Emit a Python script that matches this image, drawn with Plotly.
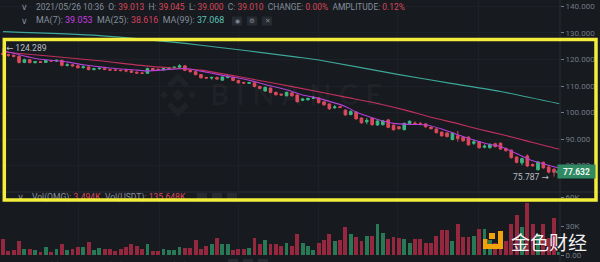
import plotly.graph_objects as go

# ---- candle data (one entry per candle, oldest first) ----
opens = [122.4, 121.9, 121.6, 121.2, 118.9, 119.9, 118.8, 119.2, 118.9, 119.6,
         119.4, 119.7, 117.8, 118.0, 117.6, 116.9, 117.2, 116.2, 116.5, 116.7,
         116.2, 116.0, 115.9, 115.8, 115.7, 115.2, 114.9, 114.8, 116.6, 116.3,
         116.1, 116.6, 116.9, 117.1, 117.6, 115.9, 115.4, 114.3, 113.2, 113.0,
         113.2, 112.2, 113.2, 113.3, 112.1, 111.3, 111.0, 111.2, 109.8, 108.1,
         109.2, 107.6, 106.9, 106.3, 107.4, 106.6, 104.6, 104.8, 105.4, 105.5,
         104.0, 103.2, 101.8, 102.2, 100.9, 99.2, 100.2, 97.9, 96.5, 97.8,
         95.3, 95.4, 97.2, 95.2, 94.6, 93.5, 95.8, 96.0, 95.8, 95.7,
         94.5, 93.8, 92.6, 92.3, 89.8, 91.2, 90.7, 90.7, 88.4, 89.0,
         86.9, 86.7, 88.2, 88.4, 86.4, 85.8, 83.2, 81.0, 83.6, 80.4,
         78.4, 81.2, 79.4, 78.6, 77.45]
highs = [124.289, 122.2, 121.9, 121.5, 120.3, 120.1, 119.4, 119.4, 119.9, 119.8,
         119.9, 119.9, 118.6, 118.3, 118.2, 117.8, 117.4, 116.9, 117.0, 116.9,
         116.5, 116.3, 116.2, 116.6, 116.0, 115.5, 115.3, 116.9, 116.8, 116.6,
         116.8, 117.1, 117.3, 118.2, 117.8, 116.3, 115.6, 114.5, 113.5, 113.6,
         113.6, 113.6, 114.3, 113.5, 112.3, 111.6, 111.6, 111.4, 110.1, 109.8,
         109.4, 107.9, 107.2, 107.9, 107.6, 106.8, 105.4, 105.6, 106.2, 105.8,
         104.2, 103.4, 102.8, 102.5, 101.2, 100.8, 100.4, 98.1, 97.9, 98.0,
         97.0, 97.2, 97.6, 95.5, 94.8, 96.2, 97.0, 96.6, 96.4, 96.0,
         94.7, 94.0, 92.8, 92.5, 92.5, 93.0, 90.9, 91.0, 89.8, 89.2,
         88.0, 88.3, 88.6, 88.8, 86.8, 86.0, 83.4, 82.9, 84.2, 80.7,
         81.6, 81.5, 80.2, 78.9, 77.9]
lows = [121.6, 121.0, 120.8, 118.5, 118.6, 118.6, 118.5, 118.7, 118.7, 119.2,
        119.1, 117.4, 117.4, 117.3, 116.6, 116.6, 115.9, 115.9, 116.2, 116.0,
        115.8, 115.7, 115.6, 115.2, 115.0, 114.6, 114.6, 114.6, 115.8, 115.9,
        115.9, 116.4, 116.6, 116.9, 115.6, 115.1, 114.0, 112.8, 112.7, 112.4,
        112.3, 112.0, 112.9, 111.8, 110.9, 110.9, 110.8, 109.5, 108.9, 107.9,
        107.3, 106.4, 106.3, 106.1, 106.0, 103.7, 104.3, 104.5, 105.1, 103.4,
        102.6, 101.0, 101.4, 101.6, 98.8, 99.0, 97.3, 95.8, 95.6, 95.0,
        95.0, 95.1, 94.1, 93.2, 93.5, 93.3, 95.6, 95.3, 95.2, 94.3,
        93.6, 92.1, 90.9, 90.6, 89.5, 89.0, 89.0, 87.5, 87.8, 86.4,
        86.5, 86.4, 86.8, 85.9, 85.2, 82.6, 80.8, 80.1, 79.4, 79.5,
        78.1, 78.8, 77.0, 75.787, 77.3]
closes = [121.9, 121.6, 121.2, 118.9, 119.9, 118.8, 119.2, 118.9, 119.6, 119.4,
          119.7, 117.8, 118.0, 117.6, 116.9, 117.2, 116.2, 116.5, 116.7, 116.2,
          116.0, 115.9, 115.8, 115.7, 115.2, 114.9, 114.8, 116.6, 116.0, 116.1,
          116.6, 116.9, 117.1, 117.6, 115.9, 115.4, 114.3, 113.1, 113.0, 113.2,
          112.6, 113.4, 113.5, 112.1, 111.2, 111.1, 111.3, 109.8, 109.1, 109.5,
          107.6, 106.7, 106.6, 107.6, 106.3, 104.1, 105.1, 105.3, 105.6, 103.7,
          102.9, 101.4, 102.1, 101.9, 99.1, 100.4, 97.6, 96.1, 97.0, 95.4,
          96.8, 96.8, 94.4, 93.5, 93.9, 95.9, 96.7, 95.7, 95.6, 94.6,
          93.9, 92.4, 91.2, 90.9, 92.2, 90.2, 89.3, 87.8, 88.9, 86.7,
          87.3, 88.0, 87.1, 86.2, 85.6, 83.0, 81.2, 82.6, 79.8, 79.9,
          81.3, 79.1, 77.5, 77.45, 77.632]
# traded volume per candle, in thousands
volumes_k = [16.2, 4.1, 4.8, 14.4, 6.2, 5.9, 5.2, 3.1, 8.2, 3.4,
             5.9, 11.3, 4.8, 5.9, 8.2, 8.2, 13.7, 4.8, 7.5, 5.9,
             5.9, 4.1, 5.9, 8.2, 11.0, 9.3, 5.9, 11.6, 4.1, 4.1,
             6.5, 4.8, 4.8, 8.2, 7.5, 7.5, 15.5, 5.9, 9.3, 11.0,
             17.2, 11.0, 11.0, 5.2, 6.5, 6.5, 7.5, 17.2, 11.6, 15.1,
             11.0, 11.0, 9.3, 12.7, 9.3, 21.9, 12.7, 9.3, 4.8, 12.7,
             15.1, 21.9, 14.4, 15.5, 29.1, 21.9, 18.5, 14.4, 19.6, 19.6,
             31.6, 23.0, 16.2, 18.5, 17.8, 16.2, 12.7, 16.2, 16.2, 12.7,
             12.7, 19.6, 25.8, 25.8, 14.4, 32.2, 18.8, 18.8, 19.6, 26.5,
             26.5, 15.5, 12.0, 20.0, 14.0, 32.0, 41.2, 28.8, 53.6, 32.0,
             22.0, 32.0, 18.0, 38.0, 3.494]

# ---- moving averages (candle index -> value) ----
ma7_idx = [0, 6, 9, 12, 15, 20, 25, 27, 31, 34, 37, 41, 46, 49, 53, 56, 58, 61, 64, 66,
           69, 71, 73, 76, 79, 82, 85, 88, 91, 93, 96, 99, 102, 103, 104]
ma7_val = [123.4, 120.4, 119.7, 119.1, 118.0, 116.8, 116.0, 115.7, 116.2, 116.6,
           115.6, 114.0, 112.2, 110.6, 108.6, 106.6, 105.8, 104.2, 102.3, 100.2,
           98.0, 96.8, 95.9, 95.5, 95.4, 93.8, 91.6, 89.6, 87.9, 87.2,
           84.5, 81.8, 80.1, 79.5, 79.0]
ma25_idx = [0, 9, 18, 28, 37, 46, 55, 64, 70, 75, 80, 85, 89, 94, 98, 103, 104]
ma25_val = [122.8, 121.2, 119.5, 117.3, 116.0, 112.8, 109.4, 105.8, 103.4, 101.0,
            98.2, 95.8, 93.7, 91.3, 89.2, 86.6, 86.2]
ma99_idx = [0, 18, 37, 55, 59, 74, 84, 93, 104]
ma99_val = [130.5, 129.0, 125.4, 120.9, 119.8, 114.3, 110.9, 107.9, 103.3]

price_ticks = [80, 90, 100, 110, 120, 130, 140]
vol_ticks = [0, 30000, 60000]
vol_tick_text = ["0.00", "30K", "60K"]

# ---- styling ----
FONT = "Roboto, 'DejaVu Sans', sans-serif"
BG = "#171a1f"
GRID = "#1d2026"
AXIS = "#2b2f36"
LABEL = "#848e9c"
TICK = "#737983"
UP = "#3db884"
DOWN = "#dc4a5b"
VOL_UP = "#287a57"
VOL_DOWN = "#95283f"
MA7_C = "#b540d8"
MA25_C = "#c0305c"
MA99_C = "#3da899"
YELLOW = "#f3ee3b"

PLOT_W = 560.0   # width of plotting area; right margin holds the price scale
FIG_H = 262.0


def px(x):
    return x / PLOT_W


def py(y):
    return 1 - y / FIG_H


idx = list(range(len(closes)))
vols = [v * 1000 for v in volumes_k]
vol_colors = [VOL_UP if c >= o else VOL_DOWN for o, c in zip(opens, closes)]

fig = go.Figure()

fig.add_trace(go.Candlestick(
    x=idx, open=opens, high=highs, low=lows, close=closes,
    increasing=dict(line=dict(color=UP, width=1), fillcolor=UP),
    decreasing=dict(line=dict(color=DOWN, width=1), fillcolor=DOWN),
    whiskerwidth=0, hoverinfo="skip", xaxis="x", yaxis="y"))

for xs, ys, col in [(ma99_idx, ma99_val, MA99_C), (ma25_idx, ma25_val, MA25_C),
                    (ma7_idx, ma7_val, MA7_C)]:
    fig.add_trace(go.Scatter(x=xs, y=ys, mode="lines",
                             line=dict(color=col, width=1.1, shape="spline", smoothing=0.6),
                             hoverinfo="skip", xaxis="x", yaxis="y"))

fig.add_trace(go.Bar(x=idx, y=vols, marker=dict(color=vol_colors, line=dict(width=0)),
                     width=0.72, hoverinfo="skip", xaxis="x2", yaxis="y2"))

# legend text sizing and spacing
HS = 8.6
ES = "\u2002"   # gap between legend items
RED_TXT = "#d9485a"

# volume legend line (sits under the highlight frame)
vol_text = (f"Vol(OMG): <span style='color:{RED_TXT}'>3.494K</span>{ES}"
            f"Vol(USDT): <span style='color:{RED_TXT}'>135.648K</span>")
fig.add_trace(go.Scatter(x=[5.4], y=[59000], mode="text", text=[vol_text],
                         textposition="middle right",
                         textfont=dict(family=FONT, size=HS, color=LABEL),
                         cliponaxis=False, hoverinfo="skip", xaxis="x2", yaxis="y2"))
fig.add_trace(go.Scatter(x=[3.3], y=[59000], mode="text", text=["∨"],
                         textposition="middle center",
                         textfont=dict(family=FONT, size=9, color=LABEL),
                         cliponaxis=False, hoverinfo="skip", xaxis="x2", yaxis="y2"))

grid_x = [14.2, 29.2, 44.1, 58.9, 73.8, 88.8]
x_range = [-0.561, 104.11]

fig.update_layout(
    width=600, height=262,
    margin=dict(l=0, r=40, t=0, b=0, autoexpand=False),
    paper_bgcolor=BG, plot_bgcolor=BG,
    showlegend=False, hovermode=False, dragmode=False,
    bargap=0,
    xaxis=dict(domain=[0, 1], range=x_range, anchor="y", showticklabels=False,
               tickvals=grid_x, showgrid=True, gridcolor=GRID, gridwidth=1,
               zeroline=False, showline=False, ticks="", automargin=False,
               rangeslider=dict(visible=False)),
    xaxis2=dict(domain=[0, 1], range=x_range, anchor="y2", showticklabels=False,
                tickvals=grid_x, showgrid=True, gridcolor=GRID, gridwidth=1,
                zeroline=False, showline=False, ticks="", automargin=False),
    yaxis=dict(domain=[py(192), 1], range=[70, 142.45], side="right", anchor="x",
               tickvals=price_ticks, ticktext=[f"{v:.3f}" for v in price_ticks],
               tickfont=dict(family=FONT, size=8, color=TICK),
               ticks="outside", ticklen=3, tickcolor=TICK, automargin=False,
               showgrid=True, gridcolor=GRID, zeroline=False, showline=False),
    yaxis2=dict(domain=[py(255), py(192)], range=[0, 65170], side="right", anchor="x2",
                tickvals=vol_ticks, ticktext=vol_tick_text,
                tickfont=dict(family=FONT, size=8, color=TICK),
                ticks="outside", ticklen=3, tickcolor=TICK, automargin=False,
                showgrid=False, zeroline=False, showline=False),
)

shapes = []
# pane separator and price-scale border
shapes.append(dict(type="line", xref="paper", yref="paper", x0=0, x1=px(600),
                   y0=py(192), y1=py(192), line=dict(color=AXIS, width=1), layer="above"))
shapes.append(dict(type="line", xref="paper", yref="paper", x0=1, x1=1,
                   y0=0, y1=1, line=dict(color=AXIS, width=1), layer="above"))


def box(x0, x1, y0, y1):
    return dict(type="rect", xref="paper", yref="paper", x0=px(x0), x1=px(x1),
                y0=py(y1), y1=py(y0), fillcolor="#262a31", line=dict(width=0), layer="above")


# small control buttons next to each legend row
for bx in [(232, 242), (247, 257), (262, 272)]:
    shapes.append(box(bx[0], bx[1], 16.5, 25.5))
for bx in [(197, 207), (212, 222), (227, 237)]:
    shapes.append(box(bx[0], bx[1], 193, 202))
for bx in [(228, 238), (243, 253), (258, 268)]:
    shapes.append(box(bx[0], bx[1], 259, 268))


def path_px(points):
    return "M " + " L ".join(f"{px(a):.5f},{py(b):.5f}" for a, b in points) + " Z"


# faint exchange watermark (diamond mark)
WM = "rgba(255,255,255,0.035)"
cx, cy = 178, 95
shapes.append(dict(type="path", xref="paper", yref="paper", layer="below",
                   path=path_px([(cx, cy - 6), (cx + 6, cy), (cx, cy + 6), (cx - 6, cy)]),
                   fillcolor=WM, line=dict(width=0)))
for dx in (-14, 14):
    shapes.append(dict(type="path", xref="paper", yref="paper", layer="below",
                       path=path_px([(cx + dx, cy - 4), (cx + dx + 4, cy), (cx + dx, cy + 4),
                                     (cx + dx - 4, cy)]),
                       fillcolor=WM, line=dict(width=0)))
for sgn in (-1, 1):
    shapes.append(dict(type="path", xref="paper", yref="paper", layer="below",
                       path=path_px([(cx, cy + sgn * 22), (cx + 11, cy + sgn * 11),
                                     (cx + 7, cy + sgn * 7), (cx, cy + sgn * 14),
                                     (cx - 7, cy + sgn * 7), (cx - 11, cy + sgn * 11)]),
                       fillcolor=WM, line=dict(width=0)))

# orange brand mark, bottom right
ORANGE = "#f0a30a"
shapes.append(dict(type="path", xref="paper", yref="paper", layer="above",
                   path=path_px([(483, 239), (483, 249), (503, 249), (503, 231), (498, 231),
                                 (498, 244), (487.5, 244), (487.5, 239)]),
                   fillcolor=ORANGE, line=dict(width=0)))
shapes.append(dict(type="rect", xref="paper", yref="paper", layer="above",
                   x0=px(489), x1=px(495), y0=py(239), y1=py(233),
                   fillcolor=ORANGE, line=dict(width=0)))

# last-price tag pointer
last = closes[-1]
TAG = "#2f8a62"
shapes.append(dict(type="path", xref="paper", yref="y", layer="above",
                   path=(f"M {px(554.5):.5f},{last} L {px(558.5):.5f},{last + 0.9} "
                         f"L {px(558.5):.5f},{last - 0.9} Z"),
                   fillcolor=TAG, line=dict(width=0)))

# highlight frame
shapes.append(dict(type="rect", xref="paper", yref="paper", layer="above",
                   x0=px(4.3), x1=px(596), y0=py(200), y1=py(39.5),
                   line=dict(color=YELLOW, width=3.5), fillcolor="rgba(0,0,0,0)"))

fig.update_layout(shapes=shapes)

R = "#d9485a"
header1 = (f"2021/05/26 10:36{ES}O: <span style='color:{R}'>39.013</span>{ES}"
           f"H: <span style='color:{R}'>39.045</span>{ES}"
           f"L: <span style='color:{R}'>39.000</span>{ES}"
           f"C: <span style='color:{R}'>39.010</span>{ES}"
           f"CHANGE: <span style='color:{R}'>0.00%</span>{ES}"
           f"AMPLITUDE: <span style='color:{R}'>0.12%</span>")
header2 = (f"MA(7): <span style='color:#c83fe0'>39.053</span>{ES}"
           f"MA(25): <span style='color:#d5415f'>38.616</span>{ES}"
           f"MA(99): <span style='color:#5cc2b3'>37.068</span>")
footer = (f"MA(5): <span style='color:#3bbd86'>89.845</span>{ES}"
          f"MA(10): <span style='color:#e6b93b'>89.593</span>{ES}"
          f"MA(20): <span style='color:#b04fd6'>15.114</span>")

hi = max(highs)
hi_i = highs.index(hi)
lo = min(lows)
lo_i = lows.index(lo)

ann = [
    dict(x=px(24), y=py(7), text="∨", font=dict(family=FONT, size=9, color=LABEL)),
    dict(x=px(34), y=py(7), text=header1, xanchor="left",
         font=dict(family=FONT, size=8.45, color=LABEL)),
    dict(x=px(24), y=py(21), text="∨", font=dict(family=FONT, size=9, color=LABEL)),
    dict(x=px(34), y=py(21), text=header2, xanchor="left",
         font=dict(family=FONT, size=8.9, color=LABEL)),
    dict(x=px(237), y=py(21), text="◉", font=dict(family=FONT, size=6, color=LABEL)),
    dict(x=px(252), y=py(21), text="⚙", font=dict(family=FONT, size=6.5, color=LABEL)),
    dict(x=px(267), y=py(21), text="✕", font=dict(family=FONT, size=6.5, color=LABEL)),
    dict(x=px(24), y=py(266), text="∨", font=dict(family=FONT, size=9, color=LABEL)),
    dict(x=px(34), y=py(266), text=footer, xanchor="left",
         font=dict(family=FONT, size=HS, color=LABEL)),
    # watermark word
    dict(x=px(296), y=py(93),
         text="<b>B\u2005I\u2005N\u2005A\u2005N\u2005C\u2005E</b>",
         font=dict(family="Lato, sans-serif", size=29, color="rgba(255,255,255,0.035)")),
    # extreme price markers
    dict(x=hi_i, y=hi, xref="x", yref="y", text=f"← {hi:.3f}", xanchor="left", xshift=1,
         font=dict(family=FONT, size=8.6, color="#b9bec6")),
    dict(x=lo_i, y=lo, xref="x", yref="y", text=f"{lo:.3f} →", xanchor="right", xshift=-3,
         font=dict(family=FONT, size=8.6, color="#b9bec6")),
    # last price tag
    dict(x=px(577), y=last, yref="y", text=f"<b>{last:.3f}</b>", bgcolor=TAG,
         width=35, height=11, borderpad=1,
         font=dict(family=FONT, size=8.5, color="#eef8f2")),
    # brand watermark text
    dict(x=px(549), y=py(241), text="金色财经",
         font=dict(family="Noto Sans CJK SC", size=19, color="rgba(255,255,255,0.95)")),
]
for a in ann:
    a.setdefault("xref", "paper")
    a.setdefault("yref", "paper")
    a.setdefault("xanchor", "center")
    a.setdefault("yanchor", "middle")
    a["showarrow"] = False
fig.update_layout(annotations=ann)

fig.write_html("out.html")
